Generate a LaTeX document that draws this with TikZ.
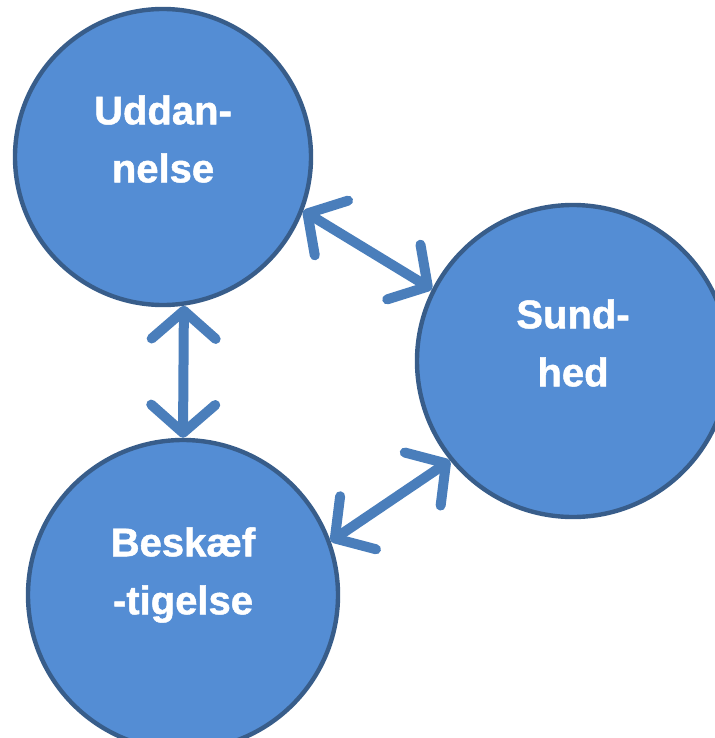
\documentclass[tikz,border=0pt]{standalone}
\usepackage{fontspec}
\setmainfont{Liberation Sans}
\newfontfamily\heavyfont{Liberation Sans Bold}[FakeBold=1.2]
\usetikzlibrary{arrows.meta}
\definecolor{bubblefill}{RGB}{84,141,212}
\definecolor{bubbleline}{RGB}{56,93,138}
\definecolor{linkblue}{RGB}{74,126,187}
\begin{document}
\begin{tikzpicture}[x=0.5pt,y=-0.5pt,
        bubble/.style={circle,draw=bubbleline,fill=bubblefill,line width=2.2pt,inner sep=0pt},
        bubbletext/.style={text=white,font=\fontsize{20}{29}\heavyfont,align=center},
        link/.style={draw=linkblue,line width=5pt,>={Straight Barb[length=14pt,width=32pt,round]},<->}]
        \clip (0,0) rectangle (715,738);

        \node[bubble,minimum size=148pt] (udd) at (163,157) {};
        \node[bubble,minimum size=156pt] (sund) at (573,361) {};
        \node[bubble,minimum size=155pt] (besk) at (183,595) {};

        \node[bubbletext] (uddtext) at ([yshift=9pt]udd.center) {Uddan-\\nelse};
        \node[bubbletext] (sundtext) at ([yshift=9pt]sund.center) {Sund-\\hed};
        \node[bubbletext] (besktext) at ([yshift=10pt]besk.center) {Beskæf\\-tigelse};

        \draw[link] (udd.-21) -- (sund.153);
        \draw[link] (udd.-82) -- (besk.90);
        \draw[link] (besk.20) -- (sund.-141);
\end{tikzpicture}
\end{document}
